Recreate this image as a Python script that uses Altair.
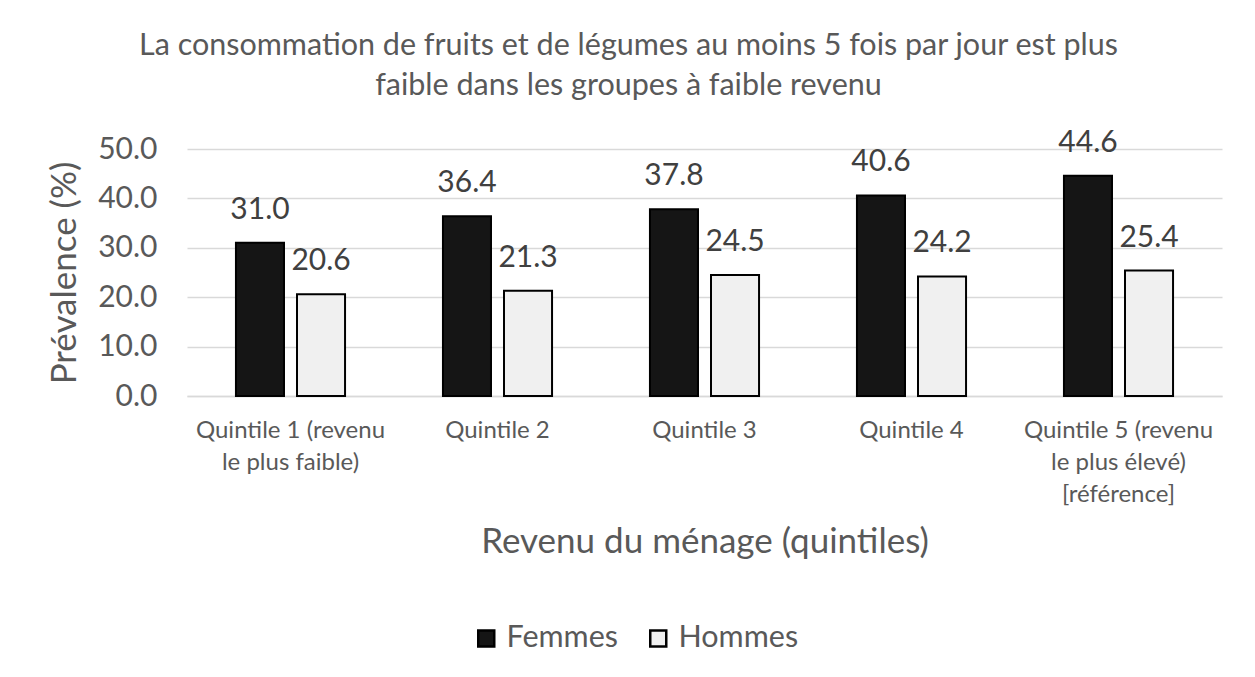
import altair as alt
import pandas as pd

categories = [
    "Quintile 1 (revenu le plus faible)",
    "Quintile 2",
    "Quintile 3",
    "Quintile 4",
    "Quintile 5 (revenu le plus élevé) [référence]",
]
label_lines = [
    ["Quintile 1 (revenu", "le plus faible)"],
    ["Quintile 2"],
    ["Quintile 3"],
    ["Quintile 4"],
    ["Quintile 5 (revenu", "le plus élevé)", "[référence]"],
]
series = ["Femmes", "Hommes"]
femmes = [31.0, 36.4, 37.8, 40.6, 44.6]
hommes = [20.6, 21.3, 24.5, 24.2, 25.4]

rows = []
for i, c in enumerate(categories):
    rows.append({"cat": c, "sexe": "Femmes", "val": femmes[i]})
    rows.append({"cat": c, "sexe": "Hommes", "val": hommes[i]})
df = pd.DataFrame(rows)

expr = ""
for c, lines in zip(categories, label_lines):
    arr = "[" + ",".join("'" + l + "'" for l in lines) + "]"
    expr += f"datum.label == '{c}' ? {arr} : "
expr += "datum.label"

FONT = "Lato"
GREY = "#595959"

x = alt.X("cat:N", sort=categories, title="Revenu du ménage (quintiles)",
          scale=alt.Scale(paddingInner=0.473, paddingOuter=0.2365),
          axis=alt.Axis(labelAngle=0, labelExpr=expr, labelFontSize=24,
                        labelLineHeight=32, labelPadding=22, labelColor=GREY,
                        labelFont=FONT, ticks=False, domainColor="#d9d9d9",
                        domainWidth=1.5, titleFontSize=35, titleColor=GREY,
                        titleFont=FONT, titleFontWeight="normal",
                        titlePadding=18, labelLimit=300))
xo = alt.XOffset("sexe:N", sort=series,
                 scale=alt.Scale(paddingInner=0.213, paddingOuter=0))
y = alt.Y("val:Q", title="Prévalence (%)",
          scale=alt.Scale(domain=[0, 50]),
          axis=alt.Axis(values=[0, 10, 20, 30, 40, 50], format=".1f",
                        labelFontSize=30, labelColor=GREY, labelFont=FONT,
                        domain=False, ticks=False, labelPadding=30,
                        gridColor="#d9d9d9", gridWidth=1.5,
                        titleFontSize=35, titleColor=GREY, titleFont=FONT,
                        titleFontWeight="normal", titlePadding=15))

bars = alt.Chart(df).mark_bar(stroke="black", strokeWidth=2).encode(
    x=x, xOffset=xo, y=y,
    fill=alt.Fill("sexe:N", sort=series,
                  scale=alt.Scale(domain=series, range=["#151515", "#f0f0f0"]),
                  legend=alt.Legend(title=None, orient="none", legendX=284,
                                    legendY=474, direction="horizontal",
                                    symbolType="square", symbolSize=256,
                                    symbolStrokeColor="black",
                                    symbolStrokeWidth=2.5,
                                    labelFontSize=30.5, labelColor=GREY,
                                    labelFont=FONT, columnPadding=24,
                                    labelOffset=5)),
)
text = alt.Chart(df).mark_text(fontSize=30, color="#404040", font=FONT,
                               baseline="alphabetic", dy=-24).encode(
    x=x, xOffset=xo, y=y, text=alt.Text("val:Q", format=".1f"))

chart = alt.layer(bars, text).properties(
    width=1035, height=247,
    title=alt.TitleParams(
        ["La consommation de fruits et de légumes au moins 5 fois par jour est plus",
         "faible dans les groupes à faible revenu"],
        fontSize=30.5, color=GREY, font=FONT, fontWeight="normal",
        anchor="middle", dx=-76, lineHeight=40, offset=26),
    autosize=alt.AutoSizeParams(type="none"),
    padding={"left": 179, "top": 141, "right": 25, "bottom": 270},
).configure_view(stroke=None)

chart.save("out.html", embed_options={"renderer": "svg", "actions": False})
